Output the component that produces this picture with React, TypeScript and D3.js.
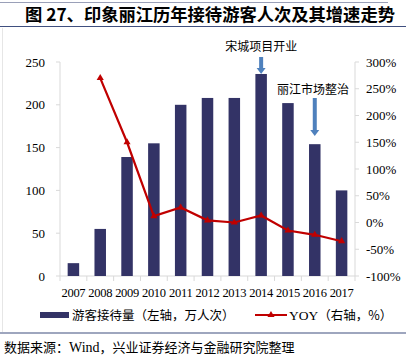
import React from "react";
import * as d3 from "d3";

const years = ["2007","2008","2009","2010","2011","2012","2013","2014","2015","2016","2017"];
const visitors = [15, 55, 139, 155, 200, 208, 208, 236, 202, 154, 100];
const yoy = [null, 270, 150, 12, 28, 4, 0, 13, -15, -23, -35];
const leftTicks = [0, 50, 100, 150, 200, 250];
const rightTicks = [-100, -50, 0, 50, 100, 150, 200, 250, 300];

const W = 406, H = 355;
const M = { left: 60, right: 355, top: 62, bottom: 276 };
const serif = "'Liberation Serif', 'Times New Roman', serif";
const cjk = "'Noto Sans CJK SC', sans-serif";

export default function App() {
  const x = d3.scaleBand<string>().domain(years).range([M.left, M.right]);
  const yL = d3.scaleLinear().domain([0, 250]).range([M.bottom, M.top]);
  const yR = d3.scaleLinear().domain([-100, 300]).range([M.bottom, M.top]);
  const bw = 11.5;
  const pts = years.map((y, i) => ({ y, v: yoy[i] })).filter(d => d.v !== null) as { y: string; v: number }[];
  const line = d3.line<{ y: string; v: number }>()
    .x(d => (x(d.y) as number) + x.bandwidth() / 2)
    .y(d => yR(d.v));
  const cx = (y: string) => (x(y) as number) + x.bandwidth() / 2;
  const tri = d3.symbol().type(d3.symbolTriangle).size(22)();
  const axisColor = "#D9D9D9";
  const barColor = "#333366";
  const red = "#C00000";
  const arrow = (xc: number, y0: number, y1: number) => (
    <g>
      <rect x={xc - 2} y={y0} width={4} height={y1 - y0 - 5} fill="#4F81BD" />
      <path d={`M${xc - 4.5},${y1 - 6} L${xc + 4.5},${y1 - 6} L${xc},${y1} Z`} fill="#4F81BD" />
    </g>
  );
  return (
    <svg width={W} height={H} style={{ position: "absolute", left: 0, top: 0, background: "#fff" }}>
      <rect width={W} height={H} fill="#fff" />
      {/* title */}
      <line x1={0} x2={388} y1={2.5} y2={2.5} stroke="#9AA0B8" strokeWidth={1} />
      <text x={25} y={21} fontFamily={cjk} fontWeight="bold" fontSize={17.3} fill="#000">图 27、印象丽江历年接待游客人次及其增速走势</text>
      <line x1={0} x2={W} y1={26.5} y2={26.5} stroke="#3F4F7F" strokeWidth={1.2} />
      <line x1={2.5} x2={2.5} y1={28} y2={332} stroke="#E6E6E6" strokeWidth={1} />
      {/* axes */}
      <line x1={M.left} x2={M.left} y1={M.top} y2={M.bottom} stroke={axisColor} />
      <line x1={M.right} x2={M.right} y1={M.top} y2={M.bottom} stroke={axisColor} />
      <line x1={M.left} x2={M.right} y1={M.bottom} y2={M.bottom} stroke={axisColor} />
      {leftTicks.map(t => (
        <g key={t}>
          <line x1={M.left - 4} x2={M.left} y1={yL(t)} y2={yL(t)} stroke={axisColor} />
          <text x={45} y={yL(t) + 4.5} textAnchor="end" fontFamily={serif} fontSize={13}>{t}</text>
        </g>
      ))}
      {rightTicks.map(t => (
        <g key={t}>
          <line x1={M.right} x2={M.right + 4} y1={yR(t)} y2={yR(t)} stroke={axisColor} />
          <text x={366} y={yR(t) + 4.5} textAnchor="start" fontFamily={serif} fontSize={13}>{t}%</text>
        </g>
      ))}
      {years.map((y, i) => (
        <g key={y}>
          <line x1={x(y) as number} x2={x(y) as number} y1={M.bottom} y2={M.bottom + 5} stroke={axisColor} />
          <text x={cx(y)} y={297} textAnchor="middle" fontFamily={serif} fontSize={12.5} letterSpacing={-0.3}>{y}</text>
        </g>
      ))}
      <line x1={M.right} x2={M.right} y1={M.bottom} y2={M.bottom + 5} stroke={axisColor} />
      {/* bars */}
      {years.map((y, i) => (
        <rect key={y} x={cx(y) - bw / 2} y={yL(visitors[i])} width={bw} height={M.bottom - yL(visitors[i])} fill={barColor} />
      ))}
      {/* line */}
      <path d={line(pts) || ""} fill="none" stroke={red} strokeWidth={2.2} />
      {pts.map(p => (
        <path key={p.y} d={tri || ""} transform={`translate(${cx(p.y)},${yR(p.v)})`} fill={red} />
      ))}
      {/* annotations */}
      <text x={cx("2014")} y={51} textAnchor="middle" fontFamily={cjk} fontSize={12} fill="#000">宋城项目开业</text>
      {arrow(cx("2014"), 57, 74)}
      <text x={313} y={94} textAnchor="middle" fontFamily={cjk} fontSize={12} fill="#000">丽江市场整治</text>
      {arrow(cx("2016"), 98, 136)}
      {/* legend */}
      <rect x={40} y={312} width={29} height={6} fill={barColor} />
      <text x={72} y={320} fontFamily={cjk} fontSize={12.5}>游客接待量（左轴，万人次）</text>
      <line x1={255} x2={287} y1={315} y2={315} stroke={red} strokeWidth={2} />
      <path d={tri || ""} transform="translate(271,315)" fill={red} />
      <text x={289} y={320} fontFamily={cjk} fontSize={12.5}>
        <tspan fontFamily={serif} fontSize={13.5}>YOY</tspan>（右轴，%）
      </text>
      <line x1={0} x2={W} y1={333} y2={333} stroke="#3F4F7F" strokeWidth={1.2} />
      <text x={4} y={352} fontFamily={cjk} fontSize={13}>数据来源：<tspan fontFamily={serif} fontSize={14}>Wind</tspan>，兴业证券经济与金融研究院整理</text>
    </svg>
  );
}
